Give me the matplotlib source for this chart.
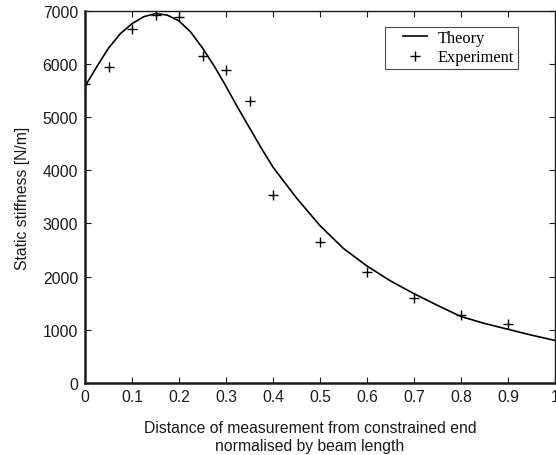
import matplotlib
matplotlib.use("Agg")
import matplotlib.pyplot as plt
from matplotlib.lines import Line2D
from matplotlib.legend_handler import HandlerLine2D

# theory curve
theory_x = [0.0, 0.025, 0.05, 0.075, 0.1, 0.125, 0.15, 0.175, 0.2, 0.225,
            0.25, 0.275, 0.3, 0.325, 0.35, 0.375, 0.4, 0.45, 0.5, 0.55,
            0.6, 0.65, 0.7, 0.75, 0.8, 0.85, 0.9, 0.95, 1.0]
theory_y = [5580, 5950, 6300, 6570, 6760, 6890, 6950, 6920, 6810, 6600,
            6300, 5960, 5580, 5180, 4800, 4420, 4060, 3480, 2960, 2530,
            2200, 1920, 1680, 1460, 1250, 1120, 1010, 900, 800]

# measured points
exp_x = [0.0, 0.05, 0.1, 0.15, 0.2, 0.25, 0.3, 0.35, 0.4, 0.5, 0.6, 0.7, 0.8, 0.9]
exp_y = [5620, 5950, 6650, 6930, 6880, 6150, 5880, 5300, 3540, 2650, 2080, 1600, 1270, 1110]

xticks = [0, 0.1, 0.2, 0.3, 0.4, 0.5, 0.6, 0.7, 0.8, 0.9, 1.0]
xtick_labels = ["0", "0.1", "0.2", "0.3", "0.4", "0.5", "0.6", "0.7", "0.8", "0.9", "1"]
yticks = [0, 1000, 2000, 3000, 4000, 5000, 6000, 7000]

plt.rcParams["font.family"] = ["Liberation Sans", "DejaVu Sans"]
ink = "#1a1a1a"

fig = plt.figure(figsize=(5.56, 4.56), dpi=100)
ax = fig.add_axes([0.153, 0.158, 0.845, 0.816])

ax.plot(theory_x, theory_y, color="black", linewidth=1.2, label="Theory")
ax.plot(exp_x, exp_y, linestyle="none", marker="+", markersize=7.5,
        markeredgewidth=1.0, color="black", label="Experiment")

ax.set_xlim(0, 1)
ax.set_ylim(0, 7000)
ax.set_xticks(xticks)
ax.set_xticklabels(xtick_labels)
ax.set_yticks(yticks)
ax.tick_params(direction="in", top=True, right=True, length=4,
               labelsize=11.3, colors=ink)
ax.tick_params(axis="x", pad=4)
ax.tick_params(axis="y", pad=5)

for side in ["left", "bottom"]:
    ax.spines[side].set_linewidth(1.8)
for side in ["top", "right"]:
    ax.spines[side].set_linewidth(1.0)
for s in ax.spines.values():
    s.set_color(ink)

ax.set_xlabel("Distance of measurement from constrained end\nnormalised by beam length",
              fontsize=11.3, color=ink)
ax.xaxis.set_label_coords(0.479, -0.1)
ax.xaxis.label.set_verticalalignment("top")
ax.set_ylabel("Static stiffness [N/m]", fontsize=11.3, color=ink)
ax.yaxis.set_label_coords(-0.117, 0.5)

# handles sit indented inside the box, as in the reference
leg = ax.legend(loc="upper left", bbox_to_anchor=(0.638, 0.957),
                prop={"family": "Liberation Serif", "size": 11.8},
                frameon=True, fancybox=False, handlelength=2.37,
                handletextpad=0.67, borderpad=0.2, labelspacing=0.2,
                borderaxespad=0,
                handler_map={Line2D: HandlerLine2D(xpad=0.9)})
leg.get_frame().set_edgecolor(ink)
leg.get_frame().set_linewidth(0.8)

fig.savefig("out.png", dpi=100)
